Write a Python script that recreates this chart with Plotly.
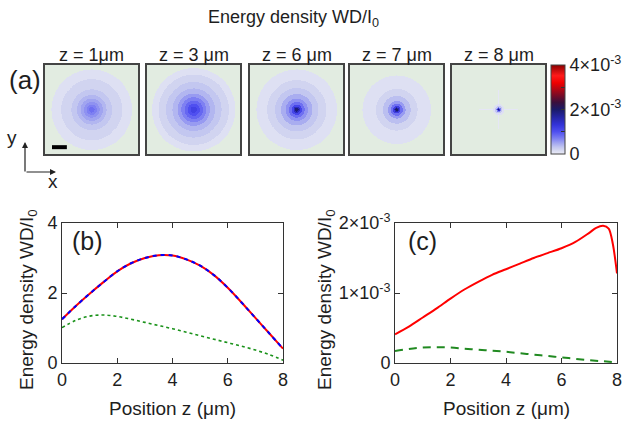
import numpy as np
import plotly.graph_objects as go

# ---------------- data ----------------
# panel (b)
z_b = [0, 0.5, 1, 1.5, 2, 2.5, 3, 3.5, 4, 4.5, 5, 5.5, 6, 6.5, 7, 7.5, 8]
total_b = [1.25, 1.63, 1.98, 2.31, 2.62, 2.85, 3.00, 3.08, 3.07, 2.96, 2.78, 2.51, 2.15, 1.73, 1.29, 0.85, 0.41]
green_b = [1.01, 1.22, 1.34, 1.37, 1.33, 1.25, 1.16, 1.07, 0.98, 0.88, 0.78, 0.68, 0.58, 0.48, 0.37, 0.24, 0.08]

# panel (c)
z_c_red = [0, 0.5, 1, 1.5, 2, 2.5, 3, 3.5, 4, 4.5, 5, 5.5, 6, 6.5, 7, 7.25, 7.5, 7.7, 7.85, 8]
red_c = [0.41, 0.52, 0.65, 0.78, 0.92, 1.05, 1.16, 1.26, 1.34, 1.42, 1.50, 1.57, 1.64, 1.73, 1.86, 1.93, 1.96, 1.92, 1.70, 1.28]
z_c_green = [0, 0.5, 1, 1.5, 2, 2.5, 3, 3.5, 4, 4.5, 5, 5.5, 6, 6.5, 7, 7.5, 8]
green_c = [0.17, 0.20, 0.22, 0.225, 0.22, 0.205, 0.19, 0.175, 0.16, 0.14, 0.12, 0.10, 0.08, 0.06, 0.04, 0.025, 0.01]

# panel (a): ring radii (fraction of half box) and band levels (x1e-3)
panel_labels = ["z = 1\u03bcm", "z = 3 \u03bcm", "z = 6 \u03bcm", "z = 7 \u03bcm", "z = 8 \u03bcm"]
ring_r_z1 = [0.86, 0.65, 0.44, 0.32, 0.24, 0.17, 0.11, 0.06]
ring_v_z1 = [0.10, 0.20, 0.30, 0.40, 0.50, 0.60, 0.70, 0.80]
ring_r_z3 = [0.89, 0.75, 0.59, 0.46, 0.35, 0.27, 0.20, 0.13, 0.07]
ring_v_z3 = [0.10, 0.20, 0.30, 0.40, 0.55, 0.70, 0.85, 1.00, 1.15]
ring_r_z6 = [0.86, 0.63, 0.47, 0.34, 0.24, 0.17, 0.11, 0.07, 0.04]
ring_v_z6 = [0.10, 0.20, 0.30, 0.45, 0.60, 0.80, 1.10, 1.50, 1.90]
ring_r_z7 = [0.73, 0.45, 0.30, 0.19, 0.13, 0.08, 0.05, 0.03]
ring_v_z7 = [0.10, 0.20, 0.35, 0.55, 0.80, 1.20, 1.60, 2.00]
ring_r_z8 = [0.12, 0.08, 0.05, 0.03, 0.015]
ring_v_z8 = [0.10, 0.30, 0.70, 1.40, 2.00]
cross_z8_extent = 0.42
cross_z8_level = 0.05

rings = [(ring_r_z1, ring_v_z1), (ring_r_z3, ring_v_z3), (ring_r_z6, ring_v_z6),
         (ring_r_z7, ring_v_z7), (ring_r_z8, ring_v_z8)]

cbar_vals = [0, 1e-3, 2e-3, 3e-3, 4e-3]
cbar_text = ["0", "", "2\u00d710<sup>-3</sup>", "", "4\u00d710<sup>-3</sup>"]
b_yticks = [0, 2, 4]
c_yticks = [0, 1e-3, 2e-3]
c_ytext = ["0", "1\u00d710<sup>-3</sup>", "2\u00d710<sup>-3</sup>"]
x_ticks = [0, 2, 4, 6, 8]

# ---------------- layout helpers ----------------
W, H = 624, 422
FONT = "Liberation Sans, Arial, Helvetica, sans-serif"
TXT = "#1e1e1e"


def px(x):
    return x / W


def py(y):
    return 1 - y / H


def xn(n):
    return "x" if n == 1 else f"x{n}"


def yn(n):
    return "y" if n == 1 else f"y{n}"


box_left = [45, 147, 250, 350, 452]
box_w = 93
box_top, box_bot = 65, 154
aspect = (box_bot - box_top) / box_w
cbar_left, cbar_w = 551, 14

colorscale = [
    [0.00, "#ececf8"], [0.04, "#d6d9f0"], [0.08, "#c0c4f0"], [0.12, "#a4a8f0"],
    [0.18, "#7a7cf2"], [0.25, "#4f4ff0"], [0.33, "#3333d8"], [0.42, "#2424a0"],
    [0.50, "#1a1a68"], [0.58, "#3a0f3c"], [0.68, "#8a0a20"], [0.80, "#f00000"],
    [0.88, "#ff1a1a"], [1.00, "#8c0000"],
]

fig = go.Figure()

nx = 186
xs = np.linspace(-1, 1, nx)
ny = int(round(nx * aspect))
ys = np.linspace(-aspect, aspect, ny)
XX, YY = np.meshgrid(xs, ys)
RR = np.sqrt(XX ** 2 + YY ** 2)
cell = xs[1] - xs[0]

shapes = []
for i, (rr, vv) in enumerate(rings):
    zfield = np.full(RR.shape, np.nan)
    if i == 4:
        cross = ((np.abs(YY) < cell) & (np.abs(XX) < cross_z8_extent)) | \
                ((np.abs(XX) < cell) & (np.abs(YY) < cross_z8_extent))
        zfield[cross] = cross_z8_level * 1e-3
    for r, v in zip(rr, vv):
        zfield[RR <= r] = v * 1e-3
    n = i + 1
    fig.add_trace(go.Heatmap(x=xs, y=ys, z=zfield, coloraxis="coloraxis",
                             xaxis=xn(n), yaxis=yn(n), hoverinfo="skip",
                             zsmooth=False))
    shapes.append(dict(type="rect", xref=f"{xn(n)} domain", yref=f"{yn(n)} domain",
                       x0=0, x1=1, y0=0, y1=1, fillcolor="#e2ece1",
                       line=dict(width=0), layer="below"))

# panel (b)
fig.add_trace(go.Scatter(x=z_b, y=total_b, mode="lines", xaxis="x6", yaxis="y6",
                         line=dict(color="#ff0000", width=2, shape="spline"),
                         showlegend=False, hoverinfo="skip"))
fig.add_trace(go.Scatter(x=z_b, y=total_b, mode="lines", xaxis="x6", yaxis="y6",
                         line=dict(color="#0000ff", width=2, dash="4px,4px", shape="spline"),
                         showlegend=False, hoverinfo="skip"))
fig.add_trace(go.Scatter(x=z_b, y=green_b, mode="lines", xaxis="x6", yaxis="y6",
                         line=dict(color="#1a921a", width=1.6, dash="dot", shape="spline"),
                         showlegend=False, hoverinfo="skip"))
# panel (c)
fig.add_trace(go.Scatter(x=z_c_red, y=[v * 1e-3 for v in red_c], mode="lines",
                         xaxis="x7", yaxis="y7",
                         line=dict(color="#ff0000", width=2, shape="spline", smoothing=0.8),
                         showlegend=False, hoverinfo="skip"))
fig.add_trace(go.Scatter(x=z_c_green, y=[v * 1e-3 for v in green_c], mode="lines",
                         xaxis="x7", yaxis="y7",
                         line=dict(color="#218a21", width=2, dash="8px,6px", shape="spline"),
                         showlegend=False, hoverinfo="skip"))

layout = dict(
    width=W, height=H, margin=dict(l=0, r=0, t=0, b=0, autoexpand=False),
    paper_bgcolor="white", plot_bgcolor="white", showlegend=False,
    font=dict(family=FONT, size=18, color=TXT),
    coloraxis=dict(
        colorscale=colorscale, cmin=0, cmax=4e-3,
        colorbar=dict(x=px(cbar_left), xanchor="left", y=py(box_bot), yanchor="bottom",
                      len=box_bot - box_top, lenmode="pixels", thickness=cbar_w,
                      thicknessmode="pixels", outlinewidth=1, outlinecolor="#444",
                      xpad=0, ypad=0, tickmode="array", tickvals=cbar_vals,
                      ticktext=cbar_text, ticks="inside", ticklen=4,
                      tickcolor="#333", tickfont=dict(size=18, color=TXT, family=FONT)),
    ),
)

for i in range(5):
    n = i + 1
    ax = dict(domain=[px(box_left[i]), px(box_left[i] + box_w)], range=[-1, 1],
              showgrid=False, zeroline=False, showticklabels=False, ticks="",
              showline=True, mirror=True, linecolor="#444", linewidth=1.5,
              anchor=yn(n), automargin=False)
    ay = dict(domain=[py(box_bot), py(box_top)], range=[-aspect, aspect],
              showgrid=False, zeroline=False, showticklabels=False, ticks="",
              showline=True, mirror=True, linecolor="#444", linewidth=1.5,
              anchor=xn(n), automargin=False)
    layout["xaxis" if n == 1 else f"xaxis{n}"] = ax
    layout["yaxis" if n == 1 else f"yaxis{n}"] = ay

common = dict(showgrid=False, zeroline=False, showline=True, mirror="ticks",
              linecolor="#333", linewidth=1, ticks="inside", ticklen=5,
              tickcolor="#333", tickfont=dict(size=18, color=TXT, family=FONT),
              automargin=False)
layout["xaxis6"] = dict(domain=[px(62), px(283)], range=[0, 8], tickvals=x_ticks,
                        anchor="y6", **common)
layout["yaxis6"] = dict(domain=[py(363), py(223)], range=[0, 4], tickvals=b_yticks,
                        anchor="x6", **common)
layout["xaxis7"] = dict(domain=[px(395), px(617)], range=[0, 8], tickvals=x_ticks,
                        anchor="y7", **common)
layout["yaxis7"] = dict(domain=[py(363), py(223)], range=[0, 2e-3], tickvals=c_yticks,
                        ticktext=c_ytext, anchor="x7", **common)

ann = []


def text(t, x, y, size, angle=0):
    ann.append(dict(text=t, x=px(x), y=py(y), xref="paper", yref="paper",
                    showarrow=False, xanchor="center", yanchor="middle",
                    textangle=angle, font=dict(size=size, color=TXT, family=FONT)))


text("Energy density WD/I<sub>0</sub>", 293, 18, 18)
for i, lab in enumerate(panel_labels):
    text(lab, box_left[i] + box_w / 2, 55, 18)
text("(a)", 25, 80, 26)
text("(b)", 87, 241, 25)
text("(c)", 422, 241, 25)
text("Energy density WD/I<sub>0</sub>", 28, 300, 19, -90)
text("Energy density WD/I<sub>0</sub>", 326, 300, 19, -90)
text("Position z (\u03bcm)", 172, 408, 19)
text("Position z (\u03bcm)", 506, 408, 19)
text("y", 12, 137, 19)
text("x", 53, 181, 19)

# axis arrows
ann.append(dict(text="", x=px(25), y=py(142), xref="paper", yref="paper",
                showarrow=True, ax=0, ay=31, arrowhead=2, arrowsize=1,
                arrowwidth=1.2, arrowcolor="#222"))
ann.append(dict(text="", x=px(56), y=py(172), xref="paper", yref="paper",
                showarrow=True, ax=-31, ay=0, arrowhead=2, arrowsize=1,
                arrowwidth=1.2, arrowcolor="#222"))
layout["annotations"] = ann

# scale bar in first image
scale_bar_x = [-0.85, -0.53]
scale_bar_y = -0.81
shapes.append(dict(type="line", xref="x", yref="y", x0=scale_bar_x[0], x1=scale_bar_x[1],
                   y0=scale_bar_y, y1=scale_bar_y, line=dict(color="black", width=4)))

# colorbar ticks on the left edge as well (mirrored ticks)
for v in cbar_vals[1:-1]:
    yy = box_bot - v / 4e-3 * (box_bot - box_top)
    shapes.append(dict(type="line", xref="paper", yref="paper",
                       x0=px(cbar_left), x1=px(cbar_left + 4), y0=py(yy), y1=py(yy),
                       line=dict(color="#333", width=1)))
layout["shapes"] = shapes

fig.update_layout(**layout)
fig.write_html("out.html", config={"displayModeBar": False},
               post_script="document.body.style.margin='0';document.body.style.padding='0';")
